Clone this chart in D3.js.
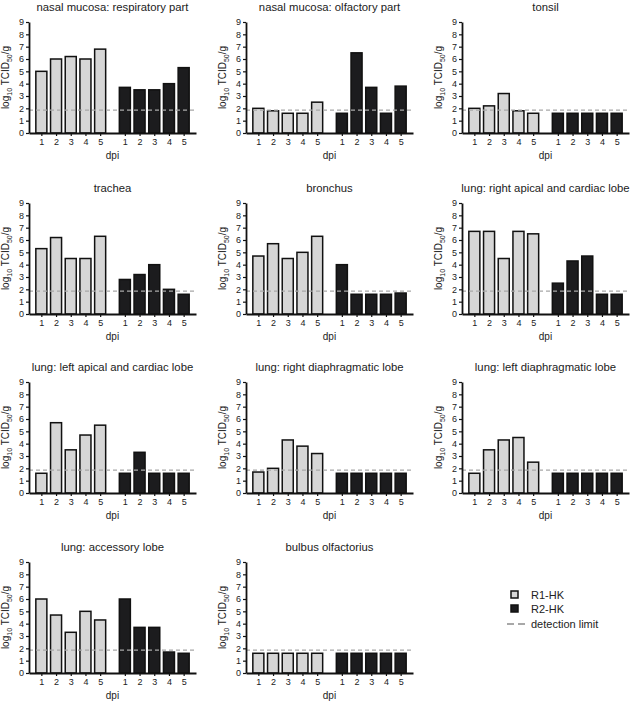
<!DOCTYPE html>
<html><head><meta charset="utf-8">
<script src="https://cdn.jsdelivr.net/npm/d3@7"></script>
<style>body{margin:0;background:#fff}text{font-family:"Liberation Sans",Arial,sans-serif;fill:#222}</style>
</head><body>
<svg id="c" width="633" height="702"></svg>
<script>
const titles = [
  "nasal mucosa: respiratory part", "nasal mucosa: olfactory part", "tonsil",
  "trachea", "bronchus", "lung: right apical and cardiac lobe",
  "lung: left apical and cardiac lobe", "lung: right diaphragmatic lobe", "lung: left diaphragmatic lobe",
  "lung: accessory lobe", "bulbus olfactorius"
];
const dpiLabels = ["1", "2", "3", "4", "5"];
const r1Values = [
  [5.0, 6.0, 6.2, 6.0, 6.8],
  [2.0, 1.8, 1.6, 1.6, 2.5],
  [2.0, 2.2, 3.2, 1.8, 1.6],
  [5.3, 6.2, 4.5, 4.5, 6.3],
  [4.7, 5.7, 4.5, 5.0, 6.3],
  [6.7, 6.7, 4.5, 6.7, 6.5],
  [1.6, 5.7, 3.5, 4.7, 5.5],
  [1.7, 2.0, 4.3, 3.8, 3.2],
  [1.6, 3.5, 4.3, 4.5, 2.5],
  [6.0, 4.7, 3.3, 5.0, 4.3],
  [1.6, 1.6, 1.6, 1.6, 1.6]
];
const r2Values = [
  [3.7, 3.5, 3.5, 4.0, 5.3],
  [1.6, 6.5, 3.7, 1.6, 3.8],
  [1.6, 1.6, 1.6, 1.6, 1.6],
  [2.8, 3.2, 4.0, 2.0, 1.6],
  [4.0, 1.6, 1.6, 1.6, 1.7],
  [2.5, 4.3, 4.7, 1.6, 1.6],
  [1.6, 3.3, 1.6, 1.6, 1.6],
  [1.6, 1.6, 1.6, 1.6, 1.6],
  [1.6, 1.6, 1.6, 1.6, 1.6],
  [6.0, 3.7, 3.7, 1.7, 1.6],
  [1.6, 1.6, 1.6, 1.6, 1.6]
];
const yTicks = [0, 1, 2, 3, 4, 5, 6, 7, 8, 9];
const detectionLimit = 1.85;
const seriesNames = ["R1-HK", "R2-HK"];
const seriesColors = ["#d6d6d6", "#1c1c1e"];

const svg = d3.select("#c");
const colX = [29, 246, 462];
const rowY = [22, 203, 382, 562];
const W = 167, H = 111;
const gapSlots = 5.68;

titles.forEach((title, p) => {
  const x0 = colX[p % 3], y0 = rowY[Math.floor(p / 3)];
  const g = svg.append("g");
  const y = d3.scaleLinear().domain([0, 9]).range([y0 + H, y0]);
  const xs = d3.scaleLinear().domain([-0.84, 4 + gapSlots + 0.84]).range([x0, x0 + W]);
  const bw = (xs(1) - xs(0)) * 0.75;
  const bars = [];
  [r1Values[p], r2Values[p]].forEach((vals, s) => {
    vals.forEach((v, i) => bars.push({slot: s * gapSlots + i, v, s, label: dpiLabels[i]}));
  });

  g.selectAll("rect.bar").data(bars).join("rect")
    .attr("x", d => xs(d.slot) - bw / 2)
    .attr("width", bw)
    .attr("y", d => y(d.v))
    .attr("height", d => y(0) - y(d.v))
    .attr("fill", d => seriesColors[d.s])
    .attr("stroke", "#111").attr("stroke-width", 1.5);

  // detection limit
  g.append("line")
    .attr("x1", x0).attr("x2", x0 + W)
    .attr("y1", y(detectionLimit)).attr("y2", y(detectionLimit))
    .attr("stroke", "#a8a8a8").attr("stroke-width", 1.2).attr("stroke-dasharray", "4,3");

  const ya = g.append("g").attr("transform", `translate(${x0},0)`)
    .call(d3.axisLeft(y).tickValues(yTicks).tickSize(3).tickSizeOuter(0).tickPadding(2));
  const xa = g.append("g").attr("transform", `translate(0,${y0 + H})`)
    .call(d3.axisBottom(xs).tickValues(bars.map(d => d.slot))
      .tickFormat((d, i) => bars[i].label).tickSize(3).tickSizeOuter(0).tickPadding(3));
  [ya, xa].forEach(a => {
    a.select(".domain").attr("stroke", "#111").attr("stroke-width", 1.8);
    a.selectAll(".tick line").attr("stroke", "#111").attr("stroke-width", 1.2);
    a.selectAll("text").attr("font-size", 9).attr("fill", "#333")
      .attr("font-family", "'Liberation Sans',Arial,sans-serif");
  });

  g.append("text").attr("x", x0 + W / 2).attr("y", y0 - 11)
    .attr("text-anchor", "middle").attr("font-size", 11.3).text(title);
  g.append("text").attr("x", x0 + W / 2).attr("y", y0 + H + 26)
    .attr("text-anchor", "middle").attr("font-size", 10).attr("fill", "#333").text("dpi");

  const yl = g.append("text")
    .attr("transform", `translate(${x0 - 20},${y0 + H / 2}) rotate(-90)`)
    .attr("text-anchor", "middle").attr("font-size", 10).attr("fill", "#333");
  yl.append("tspan").text("log");
  yl.append("tspan").attr("font-size", 7).attr("dy", 3).text("10");
  yl.append("tspan").attr("dy", -3).text(" TCID");
  yl.append("tspan").attr("font-size", 7).attr("dy", 3).text("50");
  yl.append("tspan").attr("dy", -3).text("/g");
});

// legend
const lg = svg.append("g");
const lx = 514, ly = [595, 609, 624];
seriesNames.forEach((n, i) => {
  lg.append("rect").attr("x", lx - 3).attr("y", ly[i] - 4).attr("width", 7).attr("height", 7)
    .attr("fill", seriesColors[i]).attr("stroke", "#111").attr("stroke-width", 1.5);
  lg.append("text").attr("x", lx + 17).attr("y", ly[i] + 4).attr("font-size", 11).text(n);
});
lg.append("line").attr("x1", lx - 7).attr("x2", lx + 13).attr("y1", ly[2]).attr("y2", ly[2])
  .attr("stroke", "#a8a8a8").attr("stroke-width", 2).attr("stroke-dasharray", "7,4");
lg.append("text").attr("x", lx + 17).attr("y", ly[2] + 4).attr("font-size", 11).text("detection limit");
</script>
</body></html>
